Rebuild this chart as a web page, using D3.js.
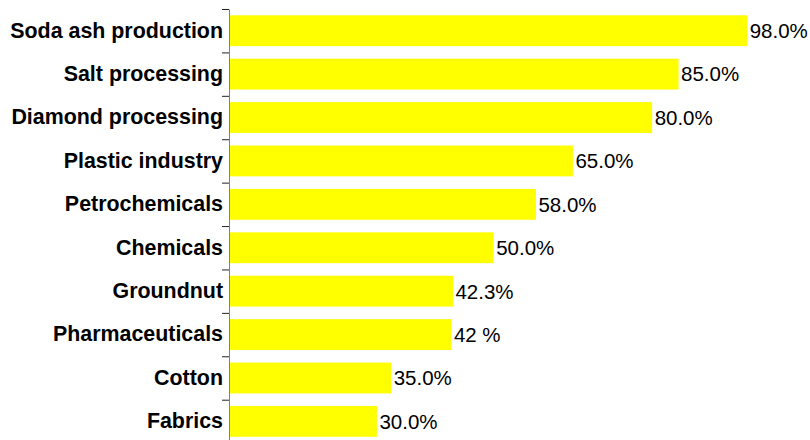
<!DOCTYPE html>
<html>
<head>
<meta charset="utf-8">
<script src="https://cdn.jsdelivr.net/npm/d3@7"></script>
<style>
  body { margin: 0; background: #fff; }
  svg { display: block; font-family: "Liberation Sans", Arial, sans-serif; }
</style>
</head>
<body>
<script>
(function () {
  var categories = [
    "Soda ash production", "Salt processing", "Diamond processing",
    "Plastic industry", "Petrochemicals", "Chemicals", "Groundnut",
    "Pharmaceuticals", "Cotton", "Fabrics"
  ];
  // bar lengths as drawn (percent)
  var values = [98, 85, 80, 65, 58, 50, 42.3, 42, 30.6, 27.9];
  // data labels as printed next to the bars
  var valueLabels = ["98.0%", "85.0%", "80.0%", "65.0%", "58.0%", "50.0%",
                     "42.3%", "42 %", "35.0%", "30.0%"];

  var width = 810, height = 440;

  var svg = d3.select("body")
    .append("svg")
    .attr("width", width)
    .attr("height", height);

  var x = d3.scaleLinear()
    .domain([0, 100])
    .range([229.5, 757.8]);

  var y = d3.scaleBand()
    .domain(categories)
    .range([9, 443.1])
    .paddingInner(0.29)
    .paddingOuter(0.145);

  // boundary ticks between categories
  var edges = d3.scaleLinear()
    .domain([0, categories.length])
    .range(y.range());

  svg.selectAll("rect.bar")
    .data(values)
    .enter()
    .append("rect")
    .attr("class", "bar")
    .attr("x", x(0))
    .attr("y", function (d, i) { return y(categories[i]); })
    .attr("width", function (d) { return x(d) - x(0); })
    .attr("height", y.bandwidth())
    .style("fill", "#ffff00");

  svg.selectAll("text.val")
    .data(values)
    .enter()
    .append("text")
    .attr("class", "val")
    .attr("x", function (d) { return x(d) + 2.5; })
    .attr("y", function (d, i) { return y(categories[i]) + y.bandwidth() / 2; })
    .attr("dy", "0.36em")
    .style("font-size", "20.5px")
    .style("fill", "#000")
    .text(function (d, i) { return valueLabels[i]; });

  var edgeAxis = svg.append("g")
    .attr("transform", "translate(" + 229 + ",0)")
    .call(d3.axisLeft(edges)
      .ticks(categories.length)
      .tickFormat("")
      .tickSize(7)
      .tickSizeOuter(0));
  edgeAxis.select(".domain").style("stroke", "#808080");
  edgeAxis.selectAll(".tick line").style("stroke", "#222");

  var catAxis = svg.append("g")
    .attr("transform", "translate(" + 229 + ",0)")
    .call(d3.axisLeft(y).tickSize(0).tickPadding(6));
  catAxis.select(".domain").remove();
  catAxis.selectAll("text")
    .style("font-family", "'Liberation Sans', Arial, sans-serif")
    .style("font-size", "21.4px")
    .style("font-weight", "bold")
    .style("fill", "#000");
})();
</script>
</body>
</html>
